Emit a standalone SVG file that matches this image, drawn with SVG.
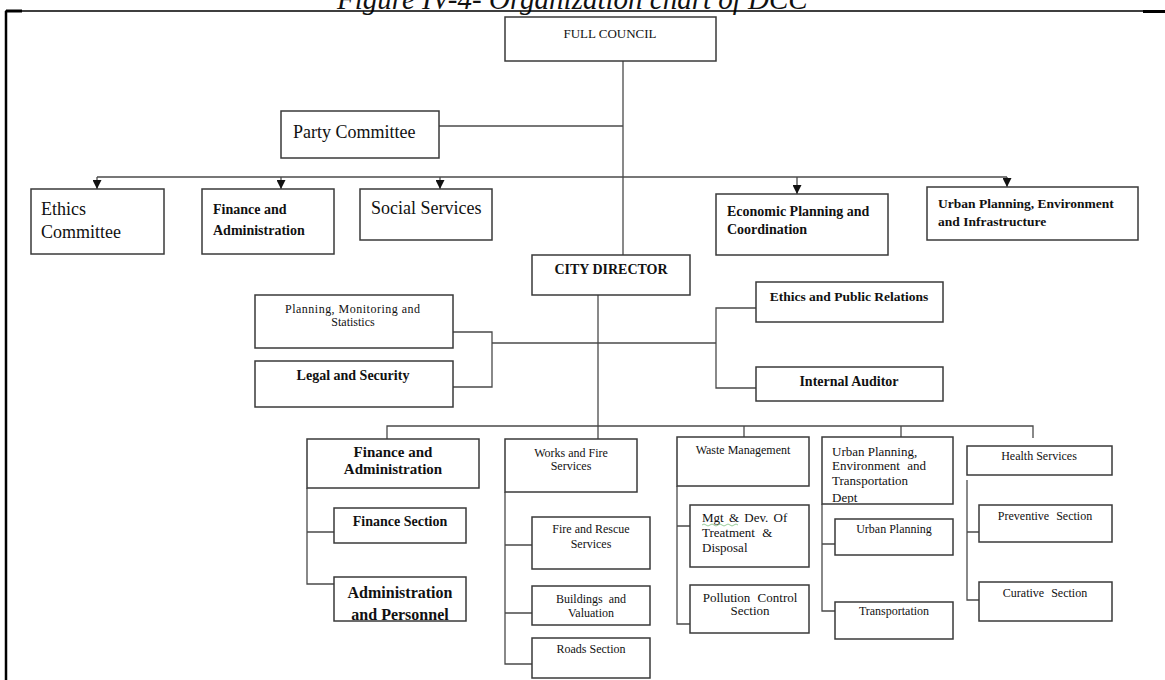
<svg xmlns="http://www.w3.org/2000/svg" width="1165" height="680" viewBox="0 0 1165 680">
  <style>
    .box { fill: #ffffff; stroke: #3a3a3a; stroke-width: 1.5; }
    .wire { fill: none; stroke: #4a4a4a; stroke-width: 1.3; }
    .frame { fill: none; stroke: #000000; }
    text { font-family: "Liberation Serif", "Times New Roman", serif; fill: #111111; }
    .mid { text-anchor: middle; }
    .b { font-weight: bold; }
    .t12 { font-size: 12px; }
    .t13 { font-size: 13px; }
    .t135 { font-size: 13.5px; }
    .t14 { font-size: 14px; }
    .t15 { font-size: 15px; }
    .t16 { font-size: 16px; }
    .t18 { font-size: 18px; }
  </style>
  <defs>
    <!-- downward pointer: drawn along +x, rotated to the line direction -->
    <marker id="arrow" viewBox="0 0 10 10" refX="10" refY="5" markerWidth="9" markerHeight="9" markerUnits="userSpaceOnUse" orient="auto">
      <path d="M0,0 L10,5 L0,10 Z" fill="#111111"/>
    </marker>
    <clipPath id="clip-admin"><rect x="334" y="577" width="132" height="43"/></clipPath>
    <clipPath id="clip-urban-dept"><rect x="822" y="437" width="131" height="66"/></clipPath>
  </defs>

  <rect width="1165" height="680" fill="#ffffff"/>

  <!-- caption and page frame -->
  <text x="337" y="9" style="font-size:29px;font-style:italic">Figure IV-4- Organization chart of DCC</text>
  <path class="frame" d="M6,680 V11 H1143" stroke-width="1.5"/>
  <path class="frame" d="M6,680 V11" stroke-width="2.5"/>
  <path class="frame" d="M6,11 H22" stroke-width="3"/>
  <path class="frame" d="M1143,11.5 H1165" stroke-width="3"/>

  <g id="connectors">
    <path class="wire" d="M623,61 V255"/>
    <path class="wire" d="M439,126 H623"/>
    <path class="wire" d="M97,177 H1007"/>
    <path class="wire" d="M97,177 V189" marker-end="url(#arrow)"/>
    <path class="wire" d="M281,177 V189" marker-end="url(#arrow)"/>
    <path class="wire" d="M440,177 V189" marker-end="url(#arrow)"/>
    <path class="wire" d="M797,177 V194" marker-end="url(#arrow)"/>
    <path class="wire" d="M1007,177 V187" marker-end="url(#arrow)"/>
    <path class="wire" d="M598,295 V439"/>
    <path class="wire" d="M453,332 H492 V387 H453"/>
    <path class="wire" d="M492,343 H716"/>
    <path class="wire" d="M756,308 H716 V388 H756"/>
    <path class="wire" d="M387,439 V426 H1033 V438"/>
    <path class="wire" d="M744,426 V437"/>
    <path class="wire" d="M901,426 V437"/>
    <path class="wire" d="M307,488 V584 H334 M307,532 H334"/>
    <path class="wire" d="M505,492 V664 H532 M505,545 H532 M505,613 H532"/>
    <path class="wire" d="M677,486 V624 H690 M677,526 H690"/>
    <path class="wire" d="M822,504 V611 H835 M822,544 H835"/>
    <path class="wire" d="M967,480 V600 H979 M967,532 H979"/>
  </g>

  <g id="full-council">
    <rect class="box" x="505" y="17" width="211" height="44"/>
    <text class="t13 mid" x="610" y="38">FULL COUNCIL</text>
  </g>
  <g id="party-committee">
    <rect class="box" x="281" y="111" width="158" height="47"/>
    <text class="t18" x="293" y="138">Party Committee</text>
  </g>

  <g id="ethics-committee">
    <rect class="box" x="31" y="189" width="133" height="65"/>
    <text class="t18" x="41" y="215">Ethics</text>
    <text class="t18" x="41" y="238">Committee</text>
  </g>
  <g id="finance-administration-committee">
    <rect class="box" x="202" y="189" width="132" height="65"/>
    <text class="t14 b" x="213" y="214">Finance and</text>
    <text class="t14 b" x="213" y="235">Administration</text>
  </g>
  <g id="social-services">
    <rect class="box" x="360" y="189" width="132" height="51"/>
    <text class="t18" x="371" y="214">Social Services</text>
  </g>
  <g id="economic-planning">
    <rect class="box" x="716" y="194" width="172" height="61"/>
    <text class="t14 b" x="727" y="216">Economic Planning and</text>
    <text class="t14 b" x="727" y="234">Coordination</text>
  </g>
  <g id="urban-infrastructure">
    <rect class="box" x="927" y="187" width="211" height="53"/>
    <text class="t135 b" x="938" y="208">Urban Planning, Environment</text>
    <text class="t135 b" x="938" y="226">and Infrastructure</text>
  </g>

  <g id="city-director">
    <rect class="box" x="532" y="255" width="158" height="40"/>
    <text class="t14 b mid" x="611" y="274">CITY DIRECTOR</text>
  </g>
  <g id="planning-monitoring">
    <rect class="box" x="255" y="295" width="198" height="53"/>
    <text class="t12" x="285" y="313" textLength="135" lengthAdjust="spacing">Planning, Monitoring and</text>
    <text class="t12 mid" x="353" y="326">Statistics</text>
  </g>
  <g id="legal-security">
    <rect class="box" x="255" y="361" width="198" height="46"/>
    <text class="t14 b mid" x="353" y="380">Legal and Security</text>
  </g>
  <g id="ethics-public-relations">
    <rect class="box" x="756" y="282" width="187" height="40"/>
    <text class="t135 b mid" x="849" y="301">Ethics and Public Relations</text>
  </g>
  <g id="internal-auditor">
    <rect class="box" x="756" y="367" width="187" height="34"/>
    <text class="t14 b mid" x="849" y="386">Internal Auditor</text>
  </g>

  <g id="finance-administration">
    <rect class="box" x="307" y="439" width="172" height="49"/>
    <text class="t15 b mid" x="393" y="457">Finance and</text>
    <text class="t15 b mid" x="393" y="474">Administration</text>
  </g>
  <g id="finance-section">
    <rect class="box" x="334" y="508" width="132" height="35"/>
    <text class="t14 b mid" x="400" y="526">Finance Section</text>
  </g>
  <g id="administration-personnel">
    <rect class="box" x="334" y="577" width="132" height="44"/>
    <g clip-path="url(#clip-admin)">
      <text class="t16 b mid" x="400" y="598">Administration</text>
      <text class="t16 b mid" x="400" y="620">and Personnel</text>
    </g>
  </g>

  <g id="works-fire">
    <rect class="box" x="505" y="439" width="132" height="53"/>
    <text class="t12 mid" x="571" y="457">Works and Fire</text>
    <text class="t12 mid" x="571" y="470">Services</text>
  </g>
  <g id="fire-rescue">
    <rect class="box" x="532" y="517" width="118" height="52"/>
    <text class="t12 mid" x="591" y="533">Fire and Rescue</text>
    <text class="t12 mid" x="591" y="548">Services</text>
  </g>
  <g id="buildings-valuation">
    <rect class="box" x="532" y="586" width="118" height="39"/>
    <text class="t12 mid" x="591" y="603" word-spacing="3">Buildings and</text>
    <text class="t12 mid" x="591" y="617">Valuation</text>
  </g>
  <g id="roads-section">
    <rect class="box" x="532" y="638" width="118" height="40"/>
    <text class="t12 mid" x="591" y="653">Roads Section</text>
  </g>

  <g id="waste-management">
    <rect class="box" x="677" y="437" width="132" height="49"/>
    <text class="t12 mid" x="743" y="454">Waste Management</text>
  </g>
  <g id="treatment-disposal">
    <rect class="box" x="690" y="505" width="119" height="62"/>
    <text class="t13" x="702" y="522" word-spacing="2">Mgt &amp; Dev. Of</text>
    <path d="M702,525 q2,-2 4,0 t4,0 t4,0 t4,0 t4,0 t4,0 t4,0 t4,0 t4,0" fill="none" stroke="#7fbf7f" stroke-width="0.8"/>
    <text class="t13" x="702" y="537" word-spacing="4">Treatment &amp;</text>
    <text class="t13" x="702" y="552">Disposal</text>
  </g>
  <g id="pollution-control">
    <rect class="box" x="690" y="585" width="119" height="48"/>
    <text class="t13 mid" x="750" y="602" word-spacing="4">Pollution Control</text>
    <text class="t13 mid" x="750" y="615">Section</text>
  </g>

  <g id="urban-transport-dept">
    <rect class="box" x="822" y="437" width="131" height="67"/>
    <g clip-path="url(#clip-urban-dept)">
      <text class="t13" x="832" y="456">Urban Planning,</text>
      <text class="t13" x="832" y="470" word-spacing="4">Environment and</text>
      <text class="t13" x="832" y="485">Transportation</text>
      <text class="t13" x="832" y="502">Dept</text>
    </g>
  </g>
  <g id="urban-planning">
    <rect class="box" x="835" y="519" width="118" height="36"/>
    <text class="t12 mid" x="894" y="533">Urban Planning</text>
  </g>
  <g id="transportation">
    <rect class="box" x="835" y="602" width="118" height="37"/>
    <text class="t12 mid" x="894" y="615">Transportation</text>
  </g>

  <g id="health-services">
    <rect class="box" x="967" y="446" width="145" height="29"/>
    <text class="t12 mid" x="1039" y="460">Health Services</text>
  </g>
  <g id="preventive-section">
    <rect class="box" x="979" y="505" width="133" height="37"/>
    <text class="t12 mid" x="1045" y="520" word-spacing="4">Preventive Section</text>
  </g>
  <g id="curative-section">
    <rect class="box" x="979" y="582" width="133" height="39"/>
    <text class="t12 mid" x="1045" y="597" word-spacing="4">Curative Section</text>
  </g>
</svg>
